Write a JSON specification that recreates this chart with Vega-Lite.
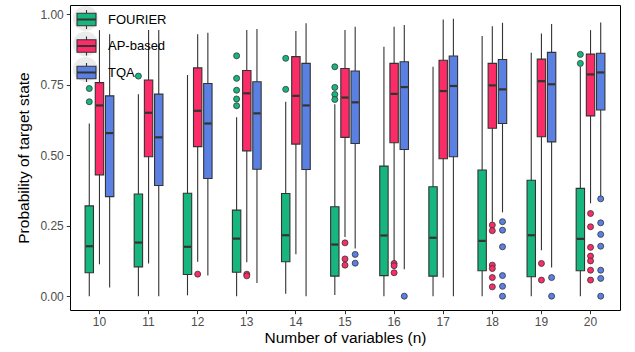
{
  "$schema": "https://vega.github.io/schema/vega-lite/v6.json",
  "width": 550,
  "height": 305,
  "autosize": {"type": "none"},
  "padding": {"left": 70, "top": 5, "right": 15, "bottom": 42},
  "config": {
    "font": "Liberation Sans",
    "view": {"stroke": "#000000", "strokeWidth": 1},
    "axis": {
      "grid": false,
      "domain": false,
      "tickColor": "#333333",
      "tickSize": 3.7,
      "tickWidth": 1,
      "labelColor": "#4d4d4d",
      "labelFontSize": 12,
      "labelFont": "Liberation Sans",
      "titleFont": "Liberation Sans",
      "titleFontSize": 15.5,
      "titleFontWeight": "normal",
      "titleColor": "#000000"
    }
  },
  "datasets": {
    "boxes": [
      {"n": 10, "method": "FOURIER", "lo": 0, "q1": 0.083, "med": 0.177, "q3": 0.320, "hi": 0.612},
      {"n": 10, "method": "AP-based", "lo": 0.113, "q1": 0.430, "med": 0.676, "q3": 0.757, "hi": 0.943},
      {"n": 10, "method": "TQA", "lo": 0.031, "q1": 0.353, "med": 0.578, "q3": 0.710, "hi": 0.928},
      {"n": 11, "method": "FOURIER", "lo": 0, "q1": 0.104, "med": 0.190, "q3": 0.362, "hi": 0.716},
      {"n": 11, "method": "AP-based", "lo": 0.116, "q1": 0.494, "med": 0.650, "q3": 0.766, "hi": 0.943},
      {"n": 11, "method": "TQA", "lo": 0, "q1": 0.392, "med": 0.563, "q3": 0.716, "hi": 0.943},
      {"n": 12, "method": "FOURIER", "lo": 0.003, "q1": 0.077, "med": 0.175, "q3": 0.365, "hi": 0.784},
      {"n": 12, "method": "AP-based", "lo": 0.122, "q1": 0.530, "med": 0.657, "q3": 0.809, "hi": 0.928},
      {"n": 12, "method": "TQA", "lo": 0.073, "q1": 0.417, "med": 0.612, "q3": 0.754, "hi": 0.934},
      {"n": 13, "method": "FOURIER", "lo": 0, "q1": 0.085, "med": 0.204, "q3": 0.305, "hi": 0.634},
      {"n": 13, "method": "AP-based", "lo": 0.12, "q1": 0.515, "med": 0.719, "q3": 0.800, "hi": 0.943},
      {"n": 13, "method": "TQA", "lo": 0.047, "q1": 0.450, "med": 0.648, "q3": 0.760, "hi": 0.947},
      {"n": 14, "method": "FOURIER", "lo": 0.009, "q1": 0.122, "med": 0.216, "q3": 0.364, "hi": 0.689},
      {"n": 14, "method": "AP-based", "lo": 0.149, "q1": 0.539, "med": 0.710, "q3": 0.849, "hi": 0.940},
      {"n": 14, "method": "TQA", "lo": 0, "q1": 0.449, "med": 0.676, "q3": 0.825, "hi": 0.967},
      {"n": 15, "method": "FOURIER", "lo": 0.004, "q1": 0.071, "med": 0.183, "q3": 0.317, "hi": 0.68},
      {"n": 15, "method": "AP-based", "lo": 0.21, "q1": 0.563, "med": 0.704, "q3": 0.807, "hi": 0.943},
      {"n": 15, "method": "TQA", "lo": 0.169, "q1": 0.541, "med": 0.687, "q3": 0.798, "hi": 0.955},
      {"n": 16, "method": "FOURIER", "lo": 0, "q1": 0.073, "med": 0.215, "q3": 0.461, "hi": 0.884},
      {"n": 16, "method": "AP-based", "lo": 0.122, "q1": 0.544, "med": 0.717, "q3": 0.825, "hi": 0.955},
      {"n": 16, "method": "TQA", "lo": 0.095, "q1": 0.520, "med": 0.741, "q3": 0.831, "hi": 0.961},
      {"n": 17, "method": "FOURIER", "lo": 0, "q1": 0.071, "med": 0.207, "q3": 0.388, "hi": 0.813},
      {"n": 17, "method": "AP-based", "lo": 0.066, "q1": 0.487, "med": 0.727, "q3": 0.836, "hi": 0.981},
      {"n": 17, "method": "TQA", "lo": 0, "q1": 0.494, "med": 0.745, "q3": 0.851, "hi": 0.983},
      {"n": 18, "method": "FOURIER", "lo": 0, "q1": 0.090, "med": 0.196, "q3": 0.447, "hi": 0.922},
      {"n": 18, "method": "AP-based", "lo": 0.264, "q1": 0.595, "med": 0.747, "q3": 0.825, "hi": 0.957},
      {"n": 18, "method": "TQA", "lo": 0.297, "q1": 0.612, "med": 0.733, "q3": 0.839, "hi": 0.969},
      {"n": 19, "method": "FOURIER", "lo": 0, "q1": 0.069, "med": 0.216, "q3": 0.411, "hi": 0.863},
      {"n": 19, "method": "AP-based", "lo": 0.163, "q1": 0.565, "med": 0.762, "q3": 0.840, "hi": 0.931},
      {"n": 19, "method": "TQA", "lo": 0.102, "q1": 0.547, "med": 0.751, "q3": 0.864, "hi": 0.965},
      {"n": 20, "method": "FOURIER", "lo": 0, "q1": 0.090, "med": 0.203, "q3": 0.382, "hi": 0.813},
      {"n": 20, "method": "AP-based", "lo": 0.329, "q1": 0.639, "med": 0.786, "q3": 0.858, "hi": 0.943},
      {"n": 20, "method": "TQA", "lo": 0.352, "q1": 0.660, "med": 0.793, "q3": 0.861, "hi": 0.970}
    ],
    "outliers": [
      {"n": 10, "method": "FOURIER", "v": 0.736},
      {"n": 10, "method": "FOURIER", "v": 0.689},
      {"n": 11, "method": "FOURIER", "v": 0.780},
      {"n": 12, "method": "AP-based", "v": 0.078},
      {"n": 13, "method": "FOURIER", "v": 0.852},
      {"n": 13, "method": "FOURIER", "v": 0.772},
      {"n": 13, "method": "FOURIER", "v": 0.730},
      {"n": 13, "method": "FOURIER", "v": 0.699},
      {"n": 13, "method": "FOURIER", "v": 0.675},
      {"n": 13, "method": "AP-based", "v": 0.078},
      {"n": 13, "method": "AP-based", "v": 0.072},
      {"n": 14, "method": "FOURIER", "v": 0.843},
      {"n": 14, "method": "FOURIER", "v": 0.733},
      {"n": 15, "method": "FOURIER", "v": 0.813},
      {"n": 15, "method": "FOURIER", "v": 0.740},
      {"n": 15, "method": "FOURIER", "v": 0.715},
      {"n": 15, "method": "FOURIER", "v": 0.697},
      {"n": 15, "method": "AP-based", "v": 0.189},
      {"n": 15, "method": "AP-based", "v": 0.132},
      {"n": 15, "method": "AP-based", "v": 0.110},
      {"n": 15, "method": "TQA", "v": 0.148},
      {"n": 15, "method": "TQA", "v": 0.117},
      {"n": 16, "method": "AP-based", "v": 0.116},
      {"n": 16, "method": "AP-based", "v": 0.108},
      {"n": 16, "method": "AP-based", "v": 0.083},
      {"n": 16, "method": "TQA", "v": 0},
      {"n": 18, "method": "AP-based", "v": 0.252},
      {"n": 18, "method": "AP-based", "v": 0.232},
      {"n": 18, "method": "AP-based", "v": 0.110},
      {"n": 18, "method": "AP-based", "v": 0.098},
      {"n": 18, "method": "AP-based", "v": 0.066},
      {"n": 18, "method": "AP-based", "v": 0.033},
      {"n": 18, "method": "TQA", "v": 0.264},
      {"n": 18, "method": "TQA", "v": 0.234},
      {"n": 18, "method": "TQA", "v": 0.175},
      {"n": 18, "method": "TQA", "v": 0.073},
      {"n": 18, "method": "TQA", "v": 0.035},
      {"n": 18, "method": "TQA", "v": 0},
      {"n": 19, "method": "AP-based", "v": 0.116},
      {"n": 19, "method": "AP-based", "v": 0.057},
      {"n": 19, "method": "TQA", "v": 0.066},
      {"n": 19, "method": "TQA", "v": 0},
      {"n": 20, "method": "FOURIER", "v": 0.857},
      {"n": 20, "method": "FOURIER", "v": 0.825},
      {"n": 20, "method": "AP-based", "v": 0.293},
      {"n": 20, "method": "AP-based", "v": 0.246},
      {"n": 20, "method": "AP-based", "v": 0.173},
      {"n": 20, "method": "AP-based", "v": 0.142},
      {"n": 20, "method": "AP-based", "v": 0.125},
      {"n": 20, "method": "AP-based", "v": 0.092},
      {"n": 20, "method": "AP-based", "v": 0.057},
      {"n": 20, "method": "TQA", "v": 0.345},
      {"n": 20, "method": "TQA", "v": 0.260},
      {"n": 20, "method": "TQA", "v": 0.219},
      {"n": 20, "method": "TQA", "v": 0.177},
      {"n": 20, "method": "TQA", "v": 0.092},
      {"n": 20, "method": "TQA", "v": 0.063},
      {"n": 20, "method": "TQA", "v": 0}
    ]
  },
  "encoding": {
    "x": {
      "field": "n",
      "type": "ordinal",
      "scale": {"paddingInner": 0, "paddingOuter": 0.1},
      "axis": {"title": "Number of variables (n)", "labelAngle": 0, "labelPadding": 3, "titlePadding": 3}
    },
    "xOffset": {
      "field": "method",
      "type": "nominal",
      "scale": {"domain": ["FOURIER", "AP-based", "TQA"], "paddingInner": 0.176, "paddingOuter": 1.564}
    }
  },
  "layer": [
    {
      "data": {"name": "boxes"},
      "mark": {"type": "rule", "color": "#333333", "strokeWidth": 1.1},
      "encoding": {
        "y": {
          "field": "lo",
          "type": "quantitative",
          "scale": {"domain": [-0.049, 1.032], "nice": false, "zero": false},
          "axis": {"values": [0, 0.25, 0.5, 0.75, 1], "format": ".2f", "title": "Probability of target state", "labelPadding": 3, "titlePadding": 8}
        },
        "y2": {"field": "hi"}
      }
    },
    {
      "data": {"name": "boxes"},
      "mark": {"type": "bar", "stroke": "#333333", "strokeWidth": 1.1},
      "encoding": {
        "y": {"field": "q1", "type": "quantitative"},
        "y2": {"field": "q3"},
        "fill": {
          "field": "method",
          "type": "nominal",
          "scale": {"domain": ["FOURIER", "AP-based", "TQA"], "range": ["#17B67F", "#FB2C68", "#5B80E3"]},
          "legend": {
            "title": null,
            "orient": "none",
            "legendX": 3,
            "legendY": 1,
            "padding": 0,
            "rowPadding": 0.5,
            "symbolType": "M-0.76,-0.5H0.76V0.5H-0.76Z M0,-0.5V-0.76 M0,0.5V0.76 M-0.76,-0.03H0.76 M-0.76,0.03H0.76",
            "symbolSize": 625,
            "symbolStrokeColor": "#333333",
            "symbolStrokeWidth": 1.1,
            "symbolOpacity": 1,
            "labelFontSize": 13,
            "labelFont": "Liberation Sans",
            "labelColor": "#000000",
            "labelOffset": 8,
            "zindex": 2
          }
        }
      }
    },
    {
      "data": {"name": "boxes"},
      "mark": {"type": "tick", "color": "#333333", "thickness": 2.2, "size": 7.2, "orient": "horizontal", "opacity": 1},
      "encoding": {
        "y": {"field": "med", "type": "quantitative"}
      }
    },
    {
      "data": {"name": "outliers"},
      "mark": {"type": "point", "filled": true, "stroke": "#333333", "strokeWidth": 0.8, "size": 36, "opacity": 1},
      "encoding": {
        "y": {"field": "v", "type": "quantitative"},
        "fill": {"field": "method", "type": "nominal"},
        "shape": {
          "field": "method",
          "type": "nominal",
          "scale": {"range": ["circle", "circle", "circle"]},
          "legend": {
            "title": null,
            "orient": "none",
            "legendX": 3,
            "legendY": 1,
            "padding": 0,
            "rowPadding": 0.5,
            "symbolSize": 625,
            "symbolType": "square",
            "symbolFillColor": "#ebebeb",
            "symbolStrokeColor": "transparent",
            "symbolStrokeWidth": 0,
            "labelExpr": "''",
            "zindex": 1,
            "encode": {
              "symbols": {
                "shape": {"value": "square"},
                "fill": {"value": "#ebebeb"},
                "stroke": {"value": "transparent"},
                "opacity": {"value": 1}
              }
            }
          }
        }
      }
    }
  ]
}
